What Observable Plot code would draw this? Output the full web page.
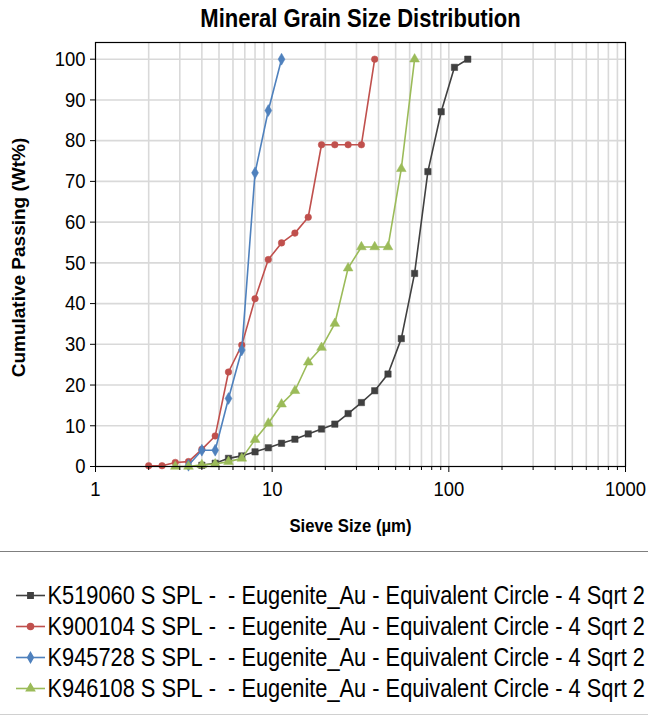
<!DOCTYPE html>
<html><head><meta charset="utf-8">
<script src="https://cdn.jsdelivr.net/npm/d3@7"></script>
<script src="https://cdn.jsdelivr.net/npm/@observablehq/plot@0.6"></script>
<style>
body{margin:0;background:#fff;}
#wrap{position:relative;width:648px;height:719px;overflow:hidden;}
#legend{position:absolute;left:0;top:551px;width:648px;border-top:1px solid #7f7f7f;border-bottom:1px solid #d0d0d0;height:162px;}
svg{display:block;}
</style></head><body><div id="wrap"><div id="chart"></div><div id="legend"></div></div>
<script>
const FONT = '"Liberation Sans",Arial,sans-serif';

// Sieve sizes (µm), fourth-root-of-2 series
const sizesBlack = [4,4.76,5.66,6.73,8,9.51,11.3,13.45,16,19.03,22.63,26.91,32,38.05,45.25,53.82,64,76.11,90.51,107.6,128];
const valuesBlack = [0.3,0.8,2.0,2.6,3.6,4.6,5.7,6.7,8.0,9.2,10.4,13.0,15.7,18.6,22.7,31.4,47.4,72.4,87.1,98.0,100];

const sizesRed = [2,2.38,2.83,3.36,4,4.76,5.66,6.73,8,9.51,11.3,13.45,16,19.03,22.63,26.91,32,38.05];
const valuesRed = [0.2,0.2,1.0,1.2,4.2,7.5,23.2,29.8,41.2,50.8,54.9,57.3,61.2,79.0,79.0,79.0,79.0,100];

const sizesBlue = [3.36,4,4.76,5.66,6.73,8,9.51,11.3];
const valuesBlue = [0.3,4.0,4.0,16.7,28.6,72.1,87.4,100];

const sizesGreen = [2.83,3.36,4,4.76,5.66,6.73,8,9.51,11.3,13.45,16,19.03,22.63,26.91,32,38.05,45.25,53.82,64];
const valuesGreen = [0,0,0.4,0.6,1.2,2.0,6.6,10.6,15.3,18.6,25.6,29.2,35.1,48.7,53.9,53.9,53.9,73.1,100];

const seriesNames = [
  "K519060 S SPL -  - Eugenite_Au - Equivalent Circle - 4 Sqrt 2",
  "K900104 S SPL -  - Eugenite_Au - Equivalent Circle - 4 Sqrt 2",
  "K945728 S SPL -  - Eugenite_Au - Equivalent Circle - 4 Sqrt 2",
  "K946108 S SPL -  - Eugenite_Au - Equivalent Circle - 4 Sqrt 2"
];
const seriesColors = ["#404040","#c0504d","#4f81bd","#9bbb59"];
const seriesSymbols = ["square","circle","diamond","triangle"];

const xMajorTicks = [1,10,100,1000];
const xMinorTicks = [2,3,4,5,6,7,8,9,20,30,40,50,60,70,80,90,200,300,400,500,600,700,800,900];
const xGrid = [2,3,4,5,6,7,8,9,10,20,30,40,50,60,70,80,90,100,200,300,400,500,600,700,800,900];
const yTicks = [0,10,20,30,40,50,60,70,80,90,100];
const yGrid = [10,20,30,40,50,60,70,80,90,100];

const titleText = "Mineral Grain Size Distribution";
const xLabel = "Sieve Size (µm)";
const yLabel = "Cumulative Passing (Wt%)";

const sizeLists = [sizesBlack,sizesRed,sizesBlue,sizesGreen];
const valueLists = [valuesBlack,valuesRed,valuesBlue,valuesGreen];
const rows = [];
seriesNames.forEach((name,i)=>{
  sizeLists[i].forEach((s,j)=>rows.push({series:name, size:s, value:valueLists[i][j]}));
});

const lineMarks = [];
seriesNames.forEach((name,i)=>{
  const d = rows.filter(r=>r.series===name);
  lineMarks.push(Plot.line(d,{x:"size",y:"value",stroke:seriesColors[i],strokeWidth:1.6}));
  lineMarks.push(Plot.dot(d,{x:"size",y:"value",fill:seriesColors[i],stroke:seriesColors[i],strokeWidth:0.5,symbol:()=>seriesSymbols[i],r:seriesSymbols[i]==="circle"?3.3:3.6}));
});

const chart = Plot.plot({
  width:648, height:552,
  marginTop:42, marginBottom:86, marginLeft:95, marginRight:23,
  style:{fontFamily:FONT, fontSize:"21px", color:"#000", background:"#fff"},
  x:{type:"log", domain:[1,1000], label:null},
  y:{domain:[0,104.1], label:null},
  marks:[
    Plot.ruleX(xGrid,{stroke:"#d9d9d9",strokeWidth:1.6}),
    Plot.ruleY(yGrid,{stroke:"#d9d9d9",strokeWidth:1.6}),
    ...lineMarks,
    Plot.frame({stroke:"#000",strokeWidth:1.2}),
    Plot.axisX(xMinorTicks,{tickSize:4,tickFormat:()=>"",stroke:"#000",label:null}),
    Plot.axisX(xMajorTicks,{tickSize:6,tickPadding:9,tickFormat:d=>String(d),stroke:"#000",label:null,fontSize:21}),
    Plot.axisY(yTicks,{tickSize:5,tickPadding:5,stroke:"#000",label:null,fontSize:21}),
    Plot.text([titleText],{frameAnchor:"top",lineAnchor:"middle",dy:-24,fontWeight:"bold",fontSize:25,fill:"#000"}),
    Plot.text([xLabel],{frameAnchor:"bottom",lineAnchor:"middle",dx:-10,dy:59,fontWeight:"bold",fontSize:19,fill:"#000"}),
    Plot.text([yLabel],{frameAnchor:"left",textAnchor:"middle",lineAnchor:"middle",dx:-77,dy:3,rotate:-90,fontWeight:"bold",fontSize:19,fill:"#000"})
  ]
});
document.getElementById("chart").appendChild(chart);

const legend = Plot.plot({
  width:648, height:161,
  margin:0,
  style:{fontFamily:FONT, fontSize:"25px", color:"#000", background:"transparent"},
  x:{type:"identity"},
  y:{type:"point", domain:seriesNames, range:[43,136], padding:0},
  axis:null,
  marks:[
    Plot.ruleY(seriesNames,{y:d=>d, x1:16, x2:45, stroke:(d,i)=>seriesColors[i], strokeWidth:1.6}),
    Plot.dot(seriesNames,{y:d=>d, x:30, fill:(d,i)=>seriesColors[i], stroke:(d,i)=>seriesColors[i], symbol:(d,i)=>seriesSymbols[i], r:3}),
    Plot.text(seriesNames,{y:d=>d, x:47, text:d=>d.replace(/ /g,"\u00a0"), textAnchor:"start", lineAnchor:"middle", fill:"#000", fontSize:25})
  ]
});
document.getElementById("legend").appendChild(legend);

// The reference's lettering is horizontally condensed: squeeze upright texts.
function condense(svg, factor){
  svg.querySelectorAll("text").forEach(t=>{
    const tr = (t.getAttribute("transform")||"") + (t.parentNode.getAttribute && (t.parentNode.getAttribute("transform")||""));
    if (/rotate/.test(tr)) return;
    const len = t.getComputedTextLength();
    if (len>0){ t.setAttribute("textLength", (len*factor).toFixed(2)); t.setAttribute("lengthAdjust","spacingAndGlyphs"); }
  });
}
condense(chart, 0.88);
condense(legend, 0.872);
</script>
</body></html>
